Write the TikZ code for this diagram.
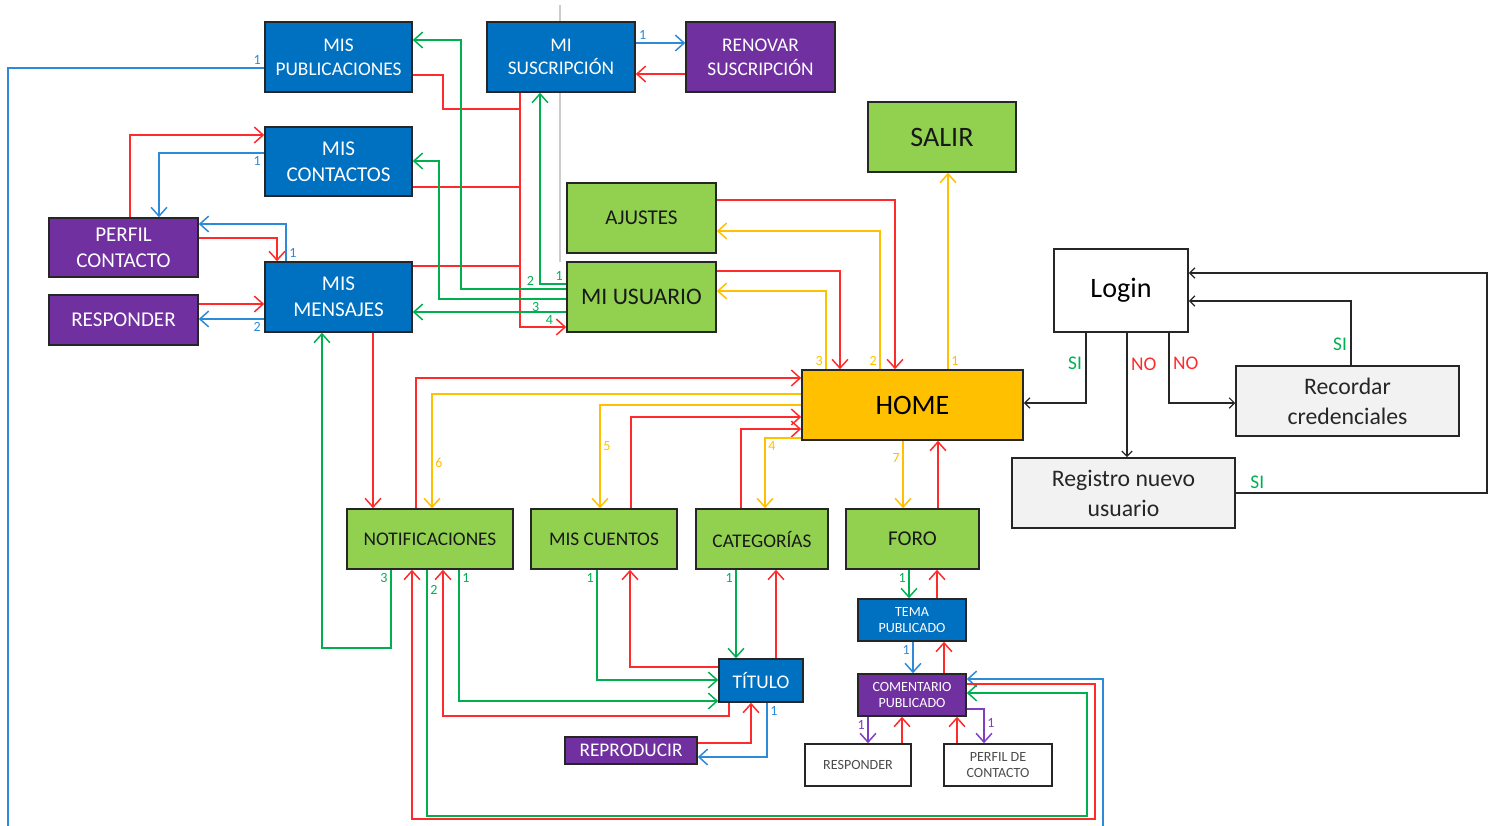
\documentclass[tikz,border=0pt]{standalone}
\usepackage{fontspec}
\setmainfont{Carlito}
\usepackage{tikz}
\usetikzlibrary{arrows.meta}
\definecolor{boxblue}{HTML}{0070C0}
\definecolor{boxpurple}{HTML}{7030A0}
\definecolor{boxgreen}{HTML}{92D050}
\definecolor{boxorange}{HTML}{FFC000}
\definecolor{boxgray}{HTML}{F2F2F2}
\definecolor{lnred}{HTML}{FF2A2A}
\definecolor{lngreen}{HTML}{00B050}
\definecolor{lnblue}{HTML}{2E8AD8}
\definecolor{lnyellow}{HTML}{FFC000}
\definecolor{lnpurple}{HTML}{7F3FBF}

\begin{document}
\begin{tikzpicture}[x=0.02cm, y=-0.02cm,
  box/.style={draw=black!85, line width=0.9pt, align=center, inner sep=0pt},
  bluebox/.style={box, fill=boxblue, text=white, font=\fontsize{12}{15}\selectfont},
  purplebox/.style={box, fill=boxpurple, text=white, font=\fontsize{12}{15}\selectfont},
  greenbox/.style={box, fill=boxgreen, text=black!90, font=\fontsize{11}{13.5}\selectfont},
  whitebox/.style={box, fill=white, text=black!70, font=\fontsize{8}{9.5}\selectfont},
  graybox/.style={box, fill=boxgray, text=black!85, font=\fontsize{13.5}{17}\selectfont},
  conn/.style={line width=0.85pt, -{Straight Barb[length=5pt,width=9pt]}},
  redln/.style={conn, color=lnred},
  grnln/.style={conn, color=lngreen},
  bluln/.style={conn, color=lnblue},
  yelln/.style={conn, color=lnyellow},
  purln/.style={conn, color=lnpurple},
  blkln/.style={line width=0.7pt, color=black!85, -{Straight Barb[length=3pt,width=6pt]}},
  num/.style={font=\fontsize{8}{9}\selectfont, inner sep=1.5pt},
  sino/.style={font=\fontsize{11}{12}\selectfont, inner sep=2pt}]
  \useasboundingbox (0,0) rectangle (1494,825);
  \clip (0,0) rectangle (1494,825);
  \draw[black!20, line width=0.6pt] (560,5) -- (560,262);

  \node[bluebox, font=\fontsize{11}{13.5}\selectfont, minimum width=2.94cm, minimum height=1.4cm] (misPub) at (338.5,57) {MIS\\PUBLICACIONES};
  \node[bluebox, font=\fontsize{11}{13.5}\selectfont, minimum width=2.96cm, minimum height=1.4cm] (misSus) at (561,57) {MI\\SUSCRIPCIÓN};
  \node[purplebox, font=\fontsize{11}{13.5}\selectfont, minimum width=2.98cm, minimum height=1.4cm] (renovar) at (760.5,57) {RENOVAR\\SUSCRIPCIÓN};
  \node[greenbox, font=\fontsize{16}{18}\selectfont, minimum width=2.96cm, minimum height=1.4cm] (salir) at (942,137) {SALIR};
  \node[bluebox, minimum width=2.94cm, minimum height=1.38cm] (misCont) at (338.5,161.5) {MIS\\CONTACTOS};
  \node[purplebox, minimum width=2.98cm, minimum height=1.18cm] (perfil) at (123.5,247.5) {PERFIL\\CONTACTO};
  \node[purplebox, minimum width=2.98cm, minimum height=1cm] (responder) at (123.5,320) {RESPONDER};
  \node[bluebox, minimum width=2.94cm, minimum height=1.4cm] (misMen) at (338.5,297) {MIS\\MENSAJES};
  \node[greenbox, font=\fontsize{12}{14}\selectfont, minimum width=2.98cm, minimum height=1.4cm] (ajustes) at (641.5,218) {AJUSTES};
  \node[greenbox, font=\fontsize{13.5}{16}\selectfont, minimum width=2.98cm, minimum height=1.4cm] (miUsuario) at (641.5,297) {MI USUARIO};
  \node[box, fill=boxorange, font=\fontsize{16}{18}\selectfont, minimum width=4.42cm, minimum height=1.4cm] (home) at (912.5,405) {HOME};
  \node[box, fill=white, font=\fontsize{16}{18}\selectfont, minimum width=2.68cm, minimum height=1.66cm] (login) at (1121,290.5) {Login};
  \node[graybox, minimum width=4.46cm, minimum height=1.4cm] (recordar) at (1347.5,401) {Recordar\\credenciales};
  \node[graybox, minimum width=4.46cm, minimum height=1.4cm] (registro) at (1123.5,493) {Registro nuevo\\usuario};
  \node[greenbox, minimum width=3.32cm, minimum height=1.2cm] (notif) at (430,539) {NOTIFICACIONES};
  \node[greenbox, minimum width=2.92cm, minimum height=1.2cm] (misCuentos) at (604,539) {MIS CUENTOS};
  \node[greenbox, minimum width=2.64cm, minimum height=1.2cm] (categorias) at (762,539) {CATEGORÍAS};
  \node[greenbox, font=\fontsize{12}{14}\selectfont, minimum width=2.66cm, minimum height=1.2cm] (foro) at (912.5,539) {FORO};
  \node[bluebox, font=\fontsize{8}{9.5}\selectfont, minimum width=2.16cm, minimum height=0.84cm] (tema) at (912,620) {TEMA\\PUBLICADO};
  \node[purplebox, font=\fontsize{8}{9.5}\selectfont, minimum width=2.16cm, minimum height=0.84cm] (comentario) at (912,695) {COMENTARIO\\PUBLICADO};
  \node[bluebox, font=\fontsize{11}{13}\selectfont, minimum width=1.68cm, minimum height=0.86cm] (titulo) at (761,680.5) {TÍTULO};
  \node[purplebox, font=\fontsize{11}{13}\selectfont, minimum width=2.64cm, minimum height=0.54cm] (reproducir) at (631,750.5) {REPRODUCIR};
  \node[whitebox, minimum width=2.12cm, minimum height=0.84cm] (responderB) at (858,765) {RESPONDER};
  \node[whitebox, minimum width=2.16cm, minimum height=0.84cm] (perfilB) at (998,765) {PERFIL DE\\CONTACTO};

  \draw[bluln] (misPub.west |- 0,68) node[num, above left]{1} -- (8,68) -- (8,840) -- (1103,840) |- (comentario.east |- 0,679);
  \draw[redln] (misSus.south -| 520,0) |- (miUsuario.west |- 0,327);
  \draw[redln, -] (misPub.east |- 0,75) -| (443,109) -- (520,109);
  \draw[redln, -] (misCont.east |- 0,187) -- (520,187);
  \draw[redln, -] (misMen.east |- 0,266) -- (520,266);
  \draw[grnln] (miUsuario.west |- 0,284) node[num, above left]{1} -| (misSus.south -| 540,0);
  \draw[grnln] (miUsuario.west |- 0,289) -- node[num, above, pos=0.34]{2} (461,289) |- (misPub.east |- 0,40);
  \draw[grnln] (miUsuario.west |- 0,299) -- node[num, below, pos=0.24]{3} (439,299) |- (misCont.east |- 0,161);
  \draw[grnln] (miUsuario.west |- 0,312) -- node[num, below, pos=0.11]{4} (misMen.east |- 0,312);

  \draw[redln] (perfil.north -| 130,0) |- (misCont.west |- 0,135);
  \draw[bluln] (misCont.west |- 0,153) node[num, below left]{1} -| (perfil.north -| 159,0);
  \draw[bluln] (misMen.north -| 286,0) node[num, above right]{1} |- (perfil.east |- 0,224);
  \draw[redln] (perfil.east |- 0,238) -| (misMen.north -| 277,0);
  \draw[redln] (responder.east |- 0,304) -- (misMen.west |- 0,304);
  \draw[bluln] (misMen.west |- 0,319) node[num, below left]{2} -- (responder.east |- 0,319);
  \draw[redln] (misMen.south -| 373,0) -- (notif.north -| 373,0);
  \draw[grnln] (notif.south -| 391,0) node[num, below left]{3} |- (322,648) -- (misMen.south -| 322,0);

  \draw[bluln] (misSus.east |- 0,43) node[num, above right]{1} -- (renovar.west |- 0,43);
  \draw[redln] (renovar.west |- 0,74) -- (misSus.east |- 0,74);

  \draw[redln] (ajustes.east |- 0,200) -| (home.north -| 895,0);
  \draw[yelln] (home.north -| 880,0) node[num, above left]{2} |- (ajustes.east |- 0,231);
  \draw[redln] (miUsuario.east |- 0,271) -| (home.north -| 840,0);
  \draw[yelln] (home.north -| 826,0) node[num, above left]{3} |- (miUsuario.east |- 0,291);
  \draw[yelln] (home.north -| 948,0) node[num, above right]{1} -- (salir.south -| 948,0);

  \draw[redln] (notif.north -| 416,0) |- (home.west |- 0,378);
  \draw[yelln] (home.west |- 0,394) -| node[num, right, pos=0.8]{6} (notif.north -| 432,0);
  \draw[yelln] (home.west |- 0,405) -| node[num, right, pos=0.7]{5} (misCuentos.north -| 600,0);
  \draw[redln] (misCuentos.north -| 631,0) |- (home.west |- 0,417);
  \draw[redln] (categorias.north -| 741,0) |- (home.west |- 0,429);
  \draw[yelln] (home.west |- 0,438) -| node[num, below right, pos=0.5]{4} (categorias.north -| 765,0);
  \draw[yelln] (home.south -| 903,0) -- node[num, left, pos=0.25]{7} (foro.north -| 903,0);
  \draw[redln] (foro.north -| 938,0) -- (home.south -| 938,0);

  \draw[blkln] (login.south -| 1086,0) |- node[sino, text=lngreen, left, pos=0.22]{SI} (home.east |- 0,403);
  \draw[blkln] (login.south -| 1127,0) -- node[sino, text=lnred, right, pos=0.25]{NO} (registro.north -| 1127,0);
  \draw[blkln] (login.south -| 1169,0) |- node[sino, text=lnred, right, pos=0.22]{NO} (recordar.west |- 0,403);
  \draw[blkln] (recordar.north -| 1351,0) |- node[sino, text=lngreen, left, pos=0.16]{SI} (login.east |- 0,301);
  \draw[blkln] (registro.east |- 0,493) node[sino, text=lngreen, above right, xshift=6pt]{SI} -| (1487,273) -- (login.east |- 0,273);

  \draw[grnln] (misCuentos.south -| 597,0) node[num, below left]{1} |- (titulo.west |- 0,680);
  \draw[redln] (titulo.west |- 0,667) -| (misCuentos.south -| 630,0);
  \draw[grnln] (categorias.south -| 736,0) node[num, below left]{1} -- (titulo.north -| 736,0);
  \draw[redln] (titulo.north -| 776,0) -- (categorias.south -| 776,0);
  \draw[grnln] (notif.south -| 459,0) node[num, below right]{1} |- (titulo.west |- 0,701);
  \draw[redln] (titulo.south -| 729,0) |- (443,716) -- (notif.south -| 443,0);
  \draw[redln] (reproducir.east |- 0,743) -| (titulo.south -| 751,0);
  \draw[bluln] (titulo.south -| 767,0) node[num, below right]{1} |- (reproducir.east |- 0,757);
  \draw[grnln] (notif.south -| 427,0) node[num, below right, yshift=-7pt]{2} |- (1087,816) |- (comentario.east |- 0,693);
  \draw[redln] (comentario.east |- 0,684) -| (1095,819) -| (notif.south -| 412,0);

  \draw[grnln] (foro.south -| 909,0) node[num, below left]{1} -- (tema.north -| 909,0);
  \draw[redln] (tema.north -| 937,0) -- (foro.south -| 937,0);
  \draw[bluln] (tema.south -| 913,0) node[num, below left]{1} -- (comentario.north -| 913,0);
  \draw[redln] (comentario.north -| 944,0) -- (tema.south -| 944,0);
  \draw[purln] (comentario.south -| 868,0) node[num, below left]{1} -- (responderB.north -| 868,0);
  \draw[redln] (responderB.north -| 902,0) -- (comentario.south -| 902,0);
  \draw[redln] (perfilB.north -| 957,0) -- (comentario.south -| 957,0);
  \draw[purln] (comentario.east |- 0,709) -| node[num, right, pos=0.7]{1} (perfilB.north -| 984,0);
\end{tikzpicture}
\end{document}
